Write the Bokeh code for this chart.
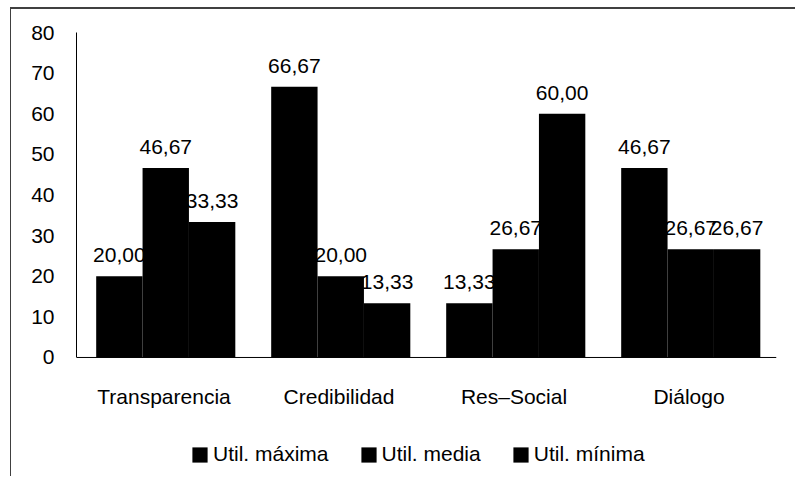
from bokeh.plotting import figure
from bokeh.models import ColumnDataSource, FactorRange, Range1d, FixedTicker, Legend, LegendItem, Span
from bokeh.transform import dodge
from bokeh.core.properties import value
from bokeh.embed import file_html
from bokeh.resources import INLINE

categories = ["Transparencia", "Credibilidad", "Res–Social", "Diálogo"]
util_maxima = [20.00, 66.67, 13.33, 46.67]
util_media = [46.67, 20.00, 26.67, 26.67]
util_minima = [33.33, 13.33, 60.00, 26.67]
series_names = ["Util. máxima", "Util. media", "Util. mínima"]
y_ticks = [0, 10, 20, 30, 40, 50, 60, 70, 80]

def fmt(v):
    return f"{v:.2f}".replace(".", ",")

src = ColumnDataSource(dict(
    cat=categories,
    zero=[0] * len(categories),
    s1=util_maxima, s2=util_media, s3=util_minima,
    l1=[fmt(v) for v in util_maxima],
    l2=[fmt(v) for v in util_media],
    l3=[fmt(v) for v in util_minima],
))

FONT = "Liberation Sans"
FS = "21px"

p = figure(x_range=FactorRange(*categories, range_padding=0), y_range=Range1d(-29.3, 80),
           frame_width=700, frame_height=444, output_backend="svg", toolbar_location=None,
           x_axis_location=None,
           min_border_left=65, min_border_right=19, min_border_top=23, min_border_bottom=0)
p.styles = {"border-top": "2px solid #404040", "border-left": "1px solid #404040",
            "margin-left": "10px", "margin-top": "7px"}
p.outline_line_color = None
p.xgrid.visible = False
p.ygrid.visible = False

offsets = [-0.255, 0.01, 0.275]
width = 0.265
keys = ["s1", "s2", "s3"]
lkeys = ["l1", "l2", "l3"]
renderers = []
for off, k, lk in zip(offsets, keys, lkeys):
    r = p.vbar(x=dodge("cat", off, range=p.x_range), top=k, width=width, source=src,
               fill_color="black", line_color=None)
    renderers.append(r)
    p.text(x=dodge("cat", off, range=p.x_range), y=k, text=lk, source=src,
           text_align="center", text_baseline="alphabetic", y_offset=-21,
           text_font=value(FONT), text_font_size=FS, text_color="black")

# category axis: baseline line and category labels
p.add_layout(Span(location=0, dimension="width", line_color="black", line_width=1))
p.text(x="cat", y="zero", text="cat", source=src, text_align="center", text_baseline="middle",
       y_offset=39, text_font=value(FONT), text_font_size=FS, text_color="black")

p.yaxis.bounds = (0, 80)
p.yaxis.ticker = FixedTicker(ticks=y_ticks)
p.yaxis.major_tick_line_color = None
p.yaxis.minor_tick_line_color = None
p.yaxis.major_tick_out = 0
p.yaxis.major_tick_in = 0
p.yaxis.major_label_standoff = 22
p.yaxis.axis_line_color = "black"
p.yaxis.major_label_text_font = FONT
p.yaxis.major_label_text_font_size = FS
p.yaxis.major_label_text_color = "black"

legend = Legend(items=[LegendItem(label=n, renderers=[r]) for n, r in zip(series_names, renderers)],
                orientation="horizontal", location=(114, 10),
                glyph_width=19, glyph_height=19, label_height=19, label_standoff=4, spacing=30,
                padding=0, margin=0, border_line_color=None, background_fill_alpha=0,
                label_text_font=FONT, label_text_font_size=FS, label_text_color="black")
p.add_layout(legend, "center")

open("out.html", "w").write(file_html(p, INLINE))
